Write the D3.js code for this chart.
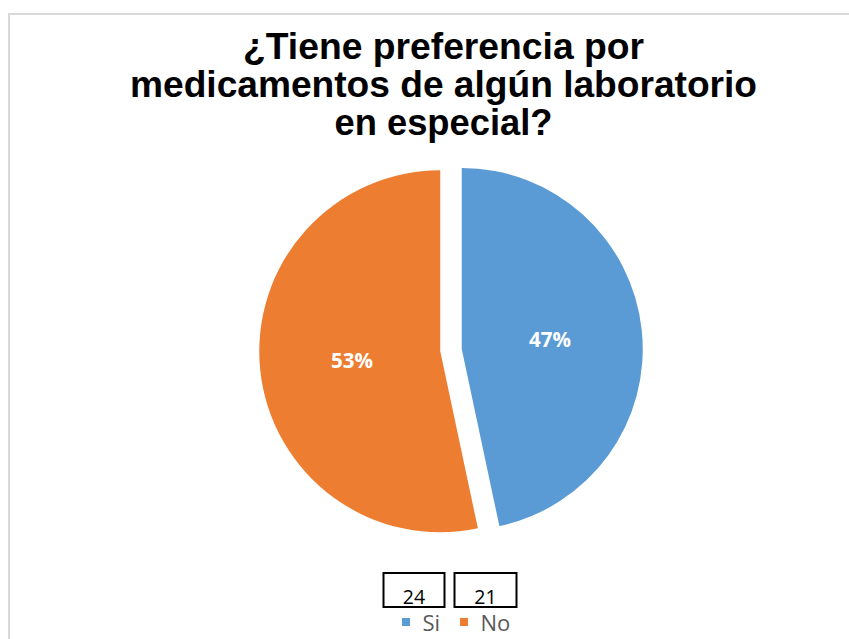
<!DOCTYPE html>
<html>
<head>
<meta charset="utf-8">
<script src="https://cdn.jsdelivr.net/npm/d3@7"></script>
<style>
  html, body { margin: 0; padding: 0; background: #ffffff; }
  svg { display: block; }
</style>
</head>
<body>
<svg id="chart" width="849" height="639"></svg>
<script>
// ---- data ----
const categories = ["Si", "No"];
const values = [21, 24];
const colors = ["#5B9BD5", "#ED7D31"];
const boxLabels = ["24", "21"];
const titleLines = ["¿Tiene preferencia por", "medicamentos de algún laboratorio", "en especial?"];

// ---- layout ----
const W = 849, H = 639;
const svg = d3.select("#chart");

// chart border
svg.append("rect")
  .attr("x", 9).attr("y", 14)
  .attr("width", W + 20).attr("height", H + 20)
  .attr("fill", "#ffffff")
  .attr("stroke", "#D9D9D9")
  .attr("stroke-width", 2);

// title
const titleWidths = [401, 627, 218];
const titleBaselines = [58.5, 96.5, 135];
svg.append("g").selectAll("text")
  .data(titleLines)
  .join("text")
  .attr("x", 443.5)
  .attr("y", (d, i) => titleBaselines[i])
  .attr("text-anchor", "middle")
  .attr("font-family", "'Liberation Sans', Arial, sans-serif")
  .attr("font-weight", "bold")
  .attr("font-size", 36)
  .attr("fill", "#000000")
  .attr("textLength", (d, i) => titleWidths[i])
  .attr("lengthAdjust", "spacingAndGlyphs")
  .text(d => d);

// pie
const cx = 451, cy = 350.2, r = 181, explode = 10.8;
const total = d3.sum(values);
const pie = d3.pie().sort(null).value(d => d.value);
const arcs = pie(categories.map((c, i) => ({ cat: c, value: values[i], color: colors[i] })));
const arc = d3.arc().innerRadius(0).outerRadius(r);
const labelArc = d3.arc().innerRadius(r * 0.49).outerRadius(r * 0.49);

const g = svg.append("g").attr("transform", `translate(${cx},${cy})`);
const slices = g.selectAll("g.slice")
  .data(arcs)
  .join("g")
  .attr("class", "slice")
  .attr("transform", d => {
    const mid = (d.startAngle + d.endAngle) / 2;
    return `translate(${explode * Math.sin(mid)},${-explode * Math.cos(mid)})`;
  });

slices.append("path")
  .attr("d", arc)
  .attr("fill", d => d.data.color);

slices.append("text")
  .attr("transform", d => `translate(${labelArc.centroid(d)})`)
  .attr("dy", "0.35em")
  .attr("text-anchor", "middle")
  .attr("font-family", "'Open Sans', sans-serif")
  .attr("font-weight", "bold")
  .attr("font-size", 20.5)
  .attr("fill", "#ffffff")
  .text(d => Math.round(d.data.value / total * 100) + "%");

// boxes above legend
const boxX = [383.5, 454.5];
const boxW = [61, 62];
const boxes = svg.append("g").selectAll("g")
  .data(boxLabels)
  .join("g");
boxes.append("rect")
  .attr("x", (d, i) => boxX[i])
  .attr("y", 573)
  .attr("width", (d, i) => boxW[i])
  .attr("height", 34)
  .attr("fill", "#ffffff")
  .attr("stroke", "#000000")
  .attr("stroke-width", 2);
boxes.append("text")
  .attr("x", (d, i) => boxX[i] + boxW[i] / 2)
  .attr("y", 603.5)
  .attr("text-anchor", "middle")
  .attr("font-family", "'Open Sans', sans-serif")
  .attr("font-size", 19.5)
  .attr("fill", "#000000")
  .text(d => d);

// legend
const legX = [402, 460];
const leg = svg.append("g").selectAll("g")
  .data(categories)
  .join("g");
leg.append("rect")
  .attr("x", (d, i) => legX[i])
  .attr("y", 618)
  .attr("width", 8)
  .attr("height", 8)
  .attr("fill", (d, i) => colors[i]);
leg.append("text")
  .attr("x", (d, i) => legX[i] + 20.5)
  .attr("y", 631)
  .attr("font-family", "'Open Sans', sans-serif")
  .attr("font-size", 22)
  .attr("fill", "#595959")
  .text(d => d);
</script>
</body>
</html>
